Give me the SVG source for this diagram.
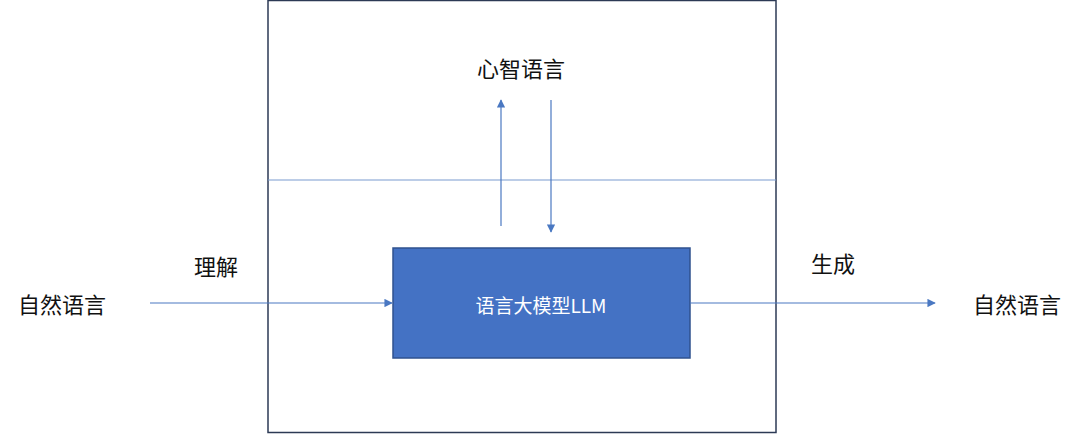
<svg xmlns="http://www.w3.org/2000/svg" width="1080" height="434" viewBox="0 0 1080 434">
<style>
text{font-family:"Noto Sans CJK SC","Noto Sans",sans-serif;font-size:22px;fill:#111;text-anchor:middle;dominant-baseline:central}
.c{stroke:#4a78c2;stroke-width:1.2;fill:none;marker-end:url(#a)}
</style>
<defs><marker id="a" viewBox="0 0 10 10" refX="9" refY="5" markerWidth="7" markerHeight="7" orient="auto"><path d="M0,0L10,5L0,10z" fill="#4a78c2"/></marker></defs>
<rect width="1080" height="434" fill="#fff"/>
<g id="frame"><rect x="268" y="0.5" width="508" height="432" fill="none" stroke="#2c3a55" stroke-width="1.5"/>
<line x1="268" y1="180" x2="776" y2="180" stroke="#7a9ccf" stroke-width="1.2"/></g>
<g id="llm"><rect x="393" y="248" width="297" height="110" fill="#4472c4" stroke="#2f528f" stroke-width="1.5"/>
<text x="541" y="304" style="fill:#fff;font-size:19px">语言大模型LLM</text></g>
<g id="mind"><text x="521" y="67">心智语言</text></g>
<g id="understand"><text x="216" y="265">理解</text></g>
<g id="generate"><text x="833" y="262">生成</text></g>
<g id="nl-in"><text x="62" y="303">自然语言</text></g>
<g id="nl-out"><text x="1017" y="303">自然语言</text></g>
<g id="connectors">
<line class="c" x1="501" y1="226" x2="501" y2="100"/>
<line class="c" x1="551" y1="100" x2="551" y2="232"/>
<line class="c" x1="150" y1="303" x2="392" y2="303"/>
<line class="c" x1="690" y1="303" x2="935" y2="303"/>
</g>
</svg>
